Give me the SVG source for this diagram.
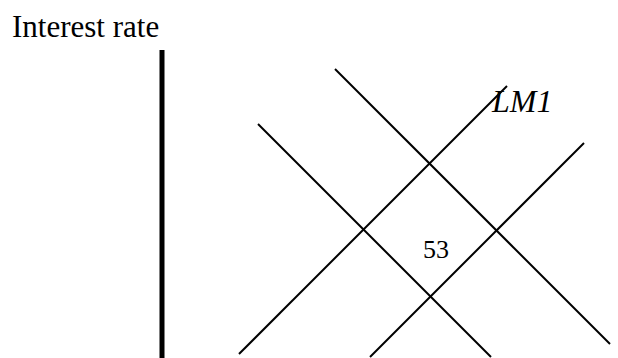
<svg xmlns="http://www.w3.org/2000/svg" width="618" height="358" viewBox="0 0 618 358">
<style>
.t{font-family:"Liberation Serif","Times New Roman",serif;fill:#000}
.c line{stroke:#000;stroke-width:2;fill:none}
</style>
<rect width="618" height="358" fill="#fff"/>
<g id="axis-label"><text class="t" x="12" y="37" font-size="31">Interest rate</text></g>
<g id="axis"><line x1="162" y1="50" x2="162" y2="358" stroke="#000" stroke-width="5"/></g>
<g class="c" id="connectors">
<line x1="258" y1="124" x2="491" y2="357"/>
<line x1="335" y1="69" x2="610" y2="344"/>
<line x1="507" y1="86" x2="239" y2="354"/>
<line x1="584" y1="143" x2="370" y2="357"/>
</g>
<g id="lm1-label"><text class="t" x="492" y="112" font-size="32" font-style="italic">LM1</text></g>
<g id="center-label"><text class="t" x="423" y="258" font-size="26">53</text></g>
</svg>
